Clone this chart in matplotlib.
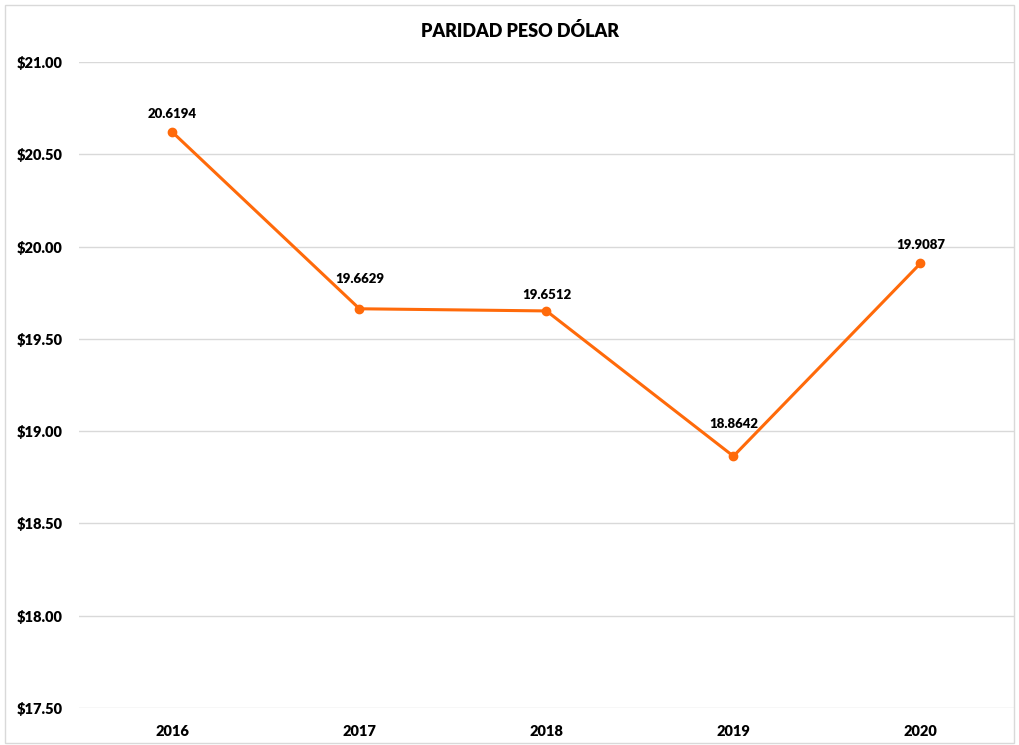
import matplotlib.pyplot as plt
from matplotlib.patches import Rectangle

years = ['2016', '2017', '2018', '2019', '2020']
paridad = [20.6194, 19.6629, 19.6512, 18.8642, 19.9087]
y_ticks = [17.5, 18.0, 18.5, 19.0, 19.5, 20.0, 20.5, 21.0]

# label offsets in points (Excel nudges some of them)
label_offsets = [9, 17, 7, 19, 9]

plt.rcParams['font.family'] = ['Lato', 'DejaVu Sans']

fig = plt.figure(figsize=(10.19, 7.45), dpi=100)
ax = fig.add_axes([0.0775, 0.0497, 0.9175, 0.8671])

x = list(range(len(years)))
ax.plot(x, paridad, color='#FF6A0A', linewidth=2.2, marker='o', markersize=6, zorder=3)

for xi, val, off in zip(x, paridad, label_offsets):
    ax.annotate(f'{val:.4f}', (xi, val), xytext=(0, off), textcoords='offset points',
                ha='center', va='bottom', fontsize=9.5, fontweight='heavy', color='black')

ax.set_xlim(-0.5, len(years) - 0.5)
ax.set_ylim(17.5, 21.0)
ax.set_yticks(y_ticks)
ax.set_yticklabels([f'${v:.2f}' for v in y_ticks])
ax.set_xticks(x)
ax.set_xticklabels(years)
ax.tick_params(axis='both', length=0, labelsize=10.5)
ax.tick_params(axis='y', pad=12)
ax.tick_params(axis='x', pad=12)
for lab in ax.get_xticklabels() + ax.get_yticklabels():
    lab.set_fontweight('heavy')

ax.grid(axis='y', color='#D9D9D9', linewidth=1)
ax.set_axisbelow(True)
for s in ax.spines.values():
    s.set_visible(False)

fig.text(0.51, 0.958, 'PARIDAD PESO DÓLAR', ha='center', va='center',
         fontsize=13, fontweight='heavy')

fig.patches.append(Rectangle((0.005, 0.003), 0.99, 0.99, transform=fig.transFigure,
                             fill=False, edgecolor='#D9D9D9', linewidth=1))

fig.savefig('out.png', dpi=100)
